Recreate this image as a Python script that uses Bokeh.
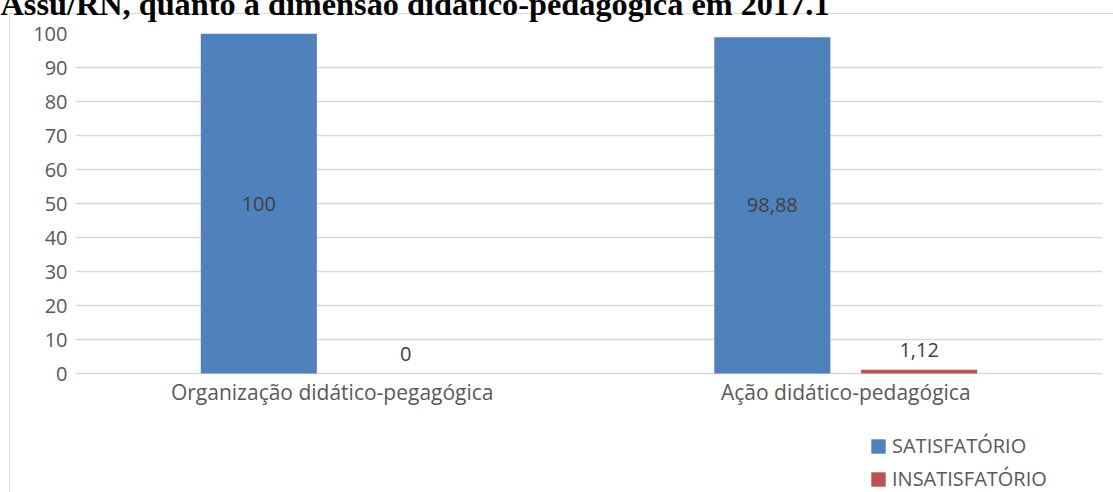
from bokeh.plotting import figure
from bokeh.models import (ColumnDataSource, LabelSet, Legend, LegendItem,
                          FactorRange, Range1d, FixedTicker)
from bokeh.core.properties import value
from bokeh.transform import dodge
from bokeh.embed import file_html
from bokeh.resources import INLINE

title_text = "Assu/RN, quanto à dimensão didático-pedagógica em 2017.1"
categories = ["Organização didático-pegagógica", "Ação didático-pedagógica"]
satisfatorio = [100, 98.88]
insatisfatorio = [0, 1.12]
series_names = ["SATISFATÓRIO", "INSATISFATÓRIO"]
y_ticks = [0, 10, 20, 30, 40, 50, 60, 70, 80, 90, 100]

BLUE = "#4F81BD"
RED = "#C0504D"
GRID = "#d9d9d9"
FONT = "Open Sans"
FS = "20px"


def fmt(v):
    return ("%g" % v).replace(".", ",")


src = ColumnDataSource(dict(
    cat=categories,
    sat=satisfatorio,
    ins=insatisfatorio,
    sat_mid=[v / 2 for v in satisfatorio],
    sat_lbl=[fmt(v) for v in satisfatorio],
    ins_lbl=[fmt(v) for v in insatisfatorio],
))

# page geometry (pixels)
PAGE_H = 492
Y100, Y0 = 33, 373            # rows of the 100 and 0 gridlines
TOP_HIDDEN = 50               # part of the canvas above the window (title is cut there)
BOX_X, BOX_Y = 9, 13          # chart-area border (left / top)
W, H = 1113, PAGE_H + TOP_HIDDEN
y_start = -100.0 * (PAGE_H - Y0) / (Y0 - Y100)

bx, by = BOX_X, BOX_Y + TOP_HIDDEN
box_css = (f"linear-gradient({GRID},{GRID}) {bx}px {by}px / 1px calc(100% - {by}px) no-repeat, "
           f"linear-gradient({GRID},{GRID}) {bx}px {by}px / calc(100% - {bx}px) 1px no-repeat, "
           "#ffffff")

p = figure(x_range=FactorRange(*categories, range_padding=0),
           y_range=Range1d(y_start, 100),
           width=W, height=H, output_backend="svg", toolbar_location=None,
           min_border_left=75, min_border_right=11,
           min_border_top=Y100 + TOP_HIDDEN, min_border_bottom=0,
           styles={"margin-top": f"-{TOP_HIDDEN}px", "margin-left": "0px",
                   "background": box_css})
p.outline_line_color = None
p.background_fill_color = None
p.border_fill_color = None

p.title.text = title_text
p.title.text_font = "Liberation Serif"
p.title.text_font_style = "bold"
p.title.text_font_size = "32.3px"
p.title.text_color = "black"
p.title.align = "left"
p.title.vertical_align = "bottom"
p.title.standoff = 10
p.title.offset = -75
p.title.padding = {"left": 0, "right": 0, "top": 0, "bottom": 7}

p.xaxis.visible = False
p.xgrid.visible = False
p.ygrid.grid_line_color = GRID
p.ygrid.grid_line_width = 1.3
p.yaxis.ticker = FixedTicker(ticks=y_ticks)

ax = p.yaxis[0]
ax.axis_line_color = None
ax.major_tick_line_color = None
ax.minor_tick_line_color = None
ax.major_tick_out = 0
ax.major_tick_in = 0
ax.minor_tick_out = 0
ax.major_label_text_font = FONT
ax.major_label_text_font_size = FS
ax.major_label_text_color = "#595959"
ax.major_label_standoff = 8

r1 = p.vbar(x=dodge("cat", -0.143, range=p.x_range), top="sat", width=0.226,
            source=src, fill_color=BLUE, line_color=None)
r2 = p.vbar(x=dodge("cat", 0.143, range=p.x_range), top="ins", width=0.226,
            source=src, fill_color=RED, line_color=None)

# category labels under the baseline
cat_lbl = LabelSet(x="cat", y=0, text="cat", source=src, y_offset=-18,
                   text_align="center", text_baseline="middle",
                   text_font=value(FONT), text_font_size=value("21px"),
                   text_color="#595959")
lbl1 = LabelSet(x=dodge("cat", -0.143, range=p.x_range), y="sat_mid", text="sat_lbl",
                source=src, text_align="center", text_baseline="middle",
                text_font=value(FONT), text_font_size=value(FS), text_color="#404040")
lbl2 = LabelSet(x=dodge("cat", 0.143, range=p.x_range), y="ins", text="ins_lbl",
                source=src, text_align="center", text_baseline="middle",
                y_offset=20,
                text_font=value(FONT), text_font_size=value(FS), text_color="#404040")
p.add_layout(cat_lbl)
p.add_layout(lbl1)
p.add_layout(lbl2)

legend = Legend(items=[LegendItem(label=series_names[0], renderers=[r1]),
                       LegendItem(label=series_names[1], renderers=[r2])],
                location=(794, 0), orientation="vertical",
                border_line_color=None, background_fill_alpha=0,
                padding=0, margin=0, spacing=6,
                glyph_width=18, glyph_height=18, label_standoff=5,
                label_height=24,
                label_text_font=FONT, label_text_font_size=FS,
                label_text_color="#595959")
p.add_layout(legend)

open("out.html", "w").write(file_html(p, INLINE))
